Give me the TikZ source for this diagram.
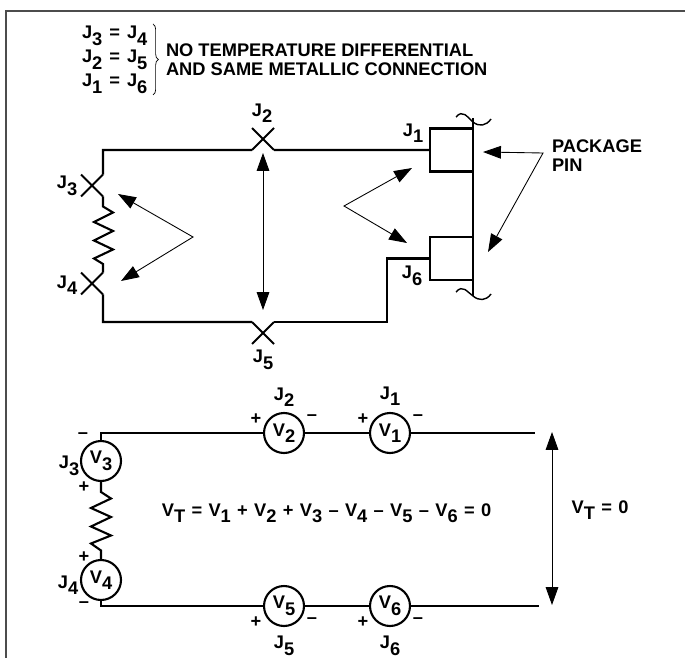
\documentclass[tikz,border=0pt]{standalone}
\usepackage{fontspec}
\setmainfont{Liberation Sans}
\usetikzlibrary{
  positioning,
  shapes.misc,
  decorations.pathreplacing,
  arrows.meta
}
\newcommand{\lbl}[2]{#1\raisebox{-3.7pt}{#2}}
\tikzset{
    every node/.style={font=\bfseries\fontsize{10.4}{10.7}\selectfont,inner sep=0pt,outer sep=0pt},
    wire/.style={line width=1.2pt,line join=miter},
    thinwire/.style={line width=0.8pt},
    pointer/.style={line width=0.5pt,{Triangle[length=10.2pt,width=7.2pt]}-{Triangle[length=10.2pt,width=7.2pt]}},
    junction/.style={draw,cross out,line width=1.2pt,minimum size=0.44cm},
    pad/.style={draw,rectangle,line width=1.2pt,minimum size=0.86cm},
    meter/.style={draw,circle,line width=1.2pt,minimum size=0.8cm,fill=white},
    sumtext/.style={execute at begin node={\spaceskip=3.6pt}},
    jointext/.style={execute at begin node={\spaceskip=4pt}}
}
\begin{document}
\begin{tikzpicture}[x=0.02cm,y=-0.02cm]
    \useasboundingbox (0,0) rectangle (685,658);
    \draw[line width=1.1pt,black!70] (6,658) -- (6,11) -- (685,11);

    \node[jointext,anchor=base west] (eqa) at (82,39) {\lbl{J}{3} = \lbl{J}{4}};
    \node[jointext,anchor=base west] (eqb) at (82,63) {\lbl{J}{2} = \lbl{J}{5}};
    \node[jointext,anchor=base west] (eqc) at (82,87) {\lbl{J}{1} = \lbl{J}{6}};
    \draw[line width=0.4pt,decorate,decoration={brace,amplitude=3pt}] (153,24) -- (153,95);
    \node[anchor=west,align=left] (note) at (166,60) {NO TEMPERATURE DIFFERENTIAL\\AND SAME METALLIC CONNECTION};

    \node[junction] (J2) at (263,139) {};
    \node[junction] (J5) at (263,333) {};
    \node[junction] (J3) at (92,185.5) {};
    \node[junction] (J4) at (92,283.5) {};
    \node[pad] (padA) at (451.5,150) {};
    \node[pad] (padB) at (451.5,258.5) {};
    \coordinate (tl) at (103,150);
    \coordinate (bl) at (103,322);
    \coordinate (step) at (387,258.5);
    \coordinate (pintop) at (473,118);
    \coordinate (pinbot) at (473,296);

    \draw[wire] (J3.north east) -- (tl) -- (J2.south west);
    \draw[wire] (J2.south east) -- (padA.west);
    \draw[wire] (J4.south east) -- (bl) -- (J5.north west);
    \draw[wire] (J5.north east) -| (step) -- (padB.west);
    \draw[wire] (J3.south east) -- ++(0,10) -- ++(10,6) -- ++(-19,9.5) -- ++(19,9) -- ++(-19,9.5) -- ++(19,9) -- ++(-19,9) -- ++(9,5.5) -- (J4.north east);
    \draw[thinwire] (pintop) -- (pinbot);
    \draw[line width=0.8pt] (456,117) .. controls (463,109) and (467,117) .. (473,122) .. controls (479,127) and (486,126) .. (491,119);
    \draw[line width=0.8pt] (456,292) .. controls (463,284) and (467,292) .. (473,296) .. controls (479,301) and (486,301) .. (491,294);
    \draw[line width=1.6pt] (padA.north east) -- (padA.south east);
    \draw[line width=1.6pt] (padB.north east) -- (padB.south east);

    \coordinate (apexL) at (193,237);
    \coordinate (tipLa) at (118,194);
    \coordinate (tipLb) at (121,281);
    \coordinate (tipMa) at (263,153);
    \coordinate (tipMb) at (263,310);
    \coordinate (apexR) at (344,206);
    \coordinate (tipRa) at (412,168);
    \coordinate (tipRb) at (407,243);
    \coordinate (apexP) at (543,153);
    \coordinate (tipPa) at (483,152);
    \coordinate (tipPb) at (488,252);
    \draw[pointer] (tipLa) -- (apexL) -- (tipLb);
    \draw[pointer] (tipMa) -- (tipMb);
    \draw[pointer] (tipRa) -- (apexR) -- (tipRb);
    \draw[pointer] (tipPa) -- (apexP) -- (tipPb);

    \node (lJ2) at (262,113) {\lbl{J}{2}};
    \node (lJ5) at (263,360) {\lbl{J}{5}};
    \node (lJ3) at (67,186) {\lbl{J}{3}};
    \node (lJ4) at (67,285) {\lbl{J}{4}};
    \node (lJ1) at (413,133) {\lbl{J}{1}};
    \node (lJ6) at (412,276) {\lbl{J}{6}};
    \node[anchor=west,align=left] (pkg) at (552,155.5) {PACKAGE\\PIN};

    \node[meter] (V3) at (101,461) {\lbl{V}{3}};
    \node[meter] (V4) at (101,580) {\lbl{V}{4}};
    \node[meter] (V2) at (284,433) {\lbl{V}{2}};
    \node[meter] (V1) at (390,433) {\lbl{V}{1}};
    \node[meter] (V5) at (284,606) {\lbl{V}{5}};
    \node[meter] (V6) at (390,606) {\lbl{V}{6}};
    \coordinate (ctl) at (101,433);
    \coordinate (cbl) at (101,606);
    \coordinate (endT) at (535,433);
    \coordinate (endB) at (539,606);
    \coordinate (vtop) at (552,432);
    \coordinate (vbot) at (552,605);

    \draw[wire] (V3.north) -- (ctl) -- (V2.west);
    \draw[wire] (V2.east) -- (V1.west);
    \draw[wire] (V1.east) -- (endT);
    \draw[wire] (V4.south) -- (cbl) -- (V5.west);
    \draw[wire] (V5.east) -- (V6.west);
    \draw[wire] (V6.east) -- (endB);
    \draw[wire] (V3.south) -- ++(0,11) -- ++(10,6.5) -- ++(-20,9.5) -- ++(20,9) -- ++(-20,9.5) -- ++(20,9) -- ++(-20,8) -- ++(10,7) -- (V4.north);
    \draw[pointer] (vtop) -- (vbot);

    \node (mJ2) at (284,397) {\lbl{J}{2}};
    \node (mJ1) at (390,396) {\lbl{J}{1}};
    \node (mJ5) at (284,646) {\lbl{J}{5}};
    \node (mJ6) at (390,646) {\lbl{J}{6}};
    \node (mJ3) at (69,466) {\lbl{J}{3}};
    \node (mJ4) at (68,585) {\lbl{J}{4}};
    \foreach \x/\y/\n in {256/419/a,363/419/b,256/622/c,363/622/d,84/487/e,84/557/f}
        \node (plus\n) at (\x,\y) {+};
    \foreach \x/\y/\n in {312/418/a,418/418/b,312/621/c,418/621/d,83/436/e,84/605/f}
        \node (minus\n) at (\x,\y) {--};

    \node[sumtext] (eqn) at (326.5,513) {\lbl{V}{T} = \lbl{V}{1} + \lbl{V}{2} + \lbl{V}{3} -- \lbl{V}{4} -- \lbl{V}{5} -- \lbl{V}{6} = 0};
    \node[sumtext] (vt) at (600,510) {\lbl{V}{T} = 0};
\end{tikzpicture}
\end{document}
